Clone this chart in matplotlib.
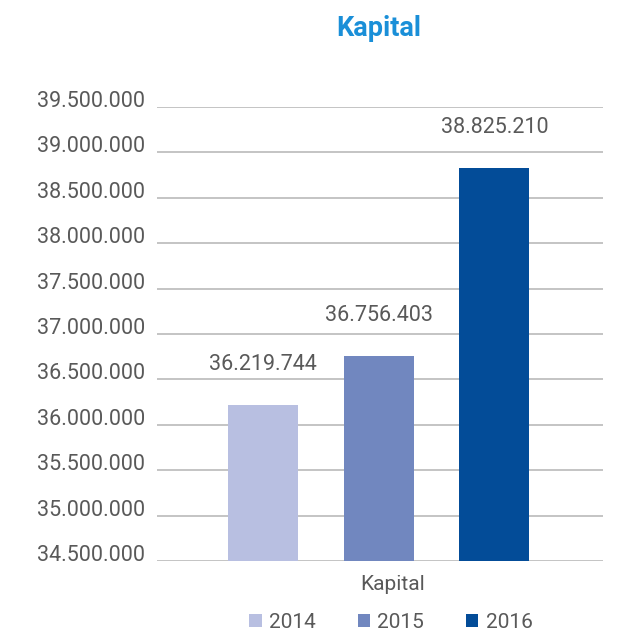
import matplotlib
matplotlib.use("Agg")
import matplotlib.pyplot as plt
from matplotlib.ticker import FuncFormatter
from matplotlib.patches import Patch

plt.rcParams['font.family'] = ['Roboto', 'DejaVu Sans']

years = ["2014", "2015", "2016"]
values = [36219744, 36756403, 38825210]
colors = ["#b8bfe1", "#7187bf", "#034c98"]
category = "Kapital"
yticks = [34500000, 35000000, 35500000, 36000000, 36500000, 37000000,
          37500000, 38000000, 38500000, 39000000, 39500000]

def fmt(v):
    return f"{int(v):,}".replace(",", ".")

fig = plt.figure(figsize=(6.18, 6.32), dpi=100)
ax = fig.add_axes([157/618, 1-561/632, 446/618, 454/632])

xs = [-1, 0, 1]
for x, v, c in zip(xs, values, colors):
    ax.bar(x, v - yticks[0], bottom=yticks[0], width=0.606, color=c, zorder=3)
    ax.annotate(fmt(v), (x, v), xytext=(0, 30), textcoords='offset pixels',
                ha='center', va='bottom', fontsize=15.5, color='#595959')

ax.set_ylim(yticks[0], yticks[-1])
ax.set_xlim(-1.92, 1.94)
ax.set_yticks(yticks)
ax.yaxis.set_major_formatter(FuncFormatter(lambda v, p: fmt(v)))
ax.tick_params(axis='y', length=0, pad=8.5, labelsize=15.5, labelcolor='#595959')
for lab in ax.get_yticklabels():
    lab.set_verticalalignment('baseline')
ax.set_xticks([])
ax.grid(axis='y', color='#bfbfbf', linewidth=1.3, zorder=0)
for s in ax.spines.values():
    s.set_visible(False)

fig.text(393/618, 1-584/632, category, ha='center', va='center',
         fontsize=15, color='#595959')
fig.text(379/618, 1-29/632, category, ha='center', va='center',
         fontsize=19.5, fontweight='bold', color='#1a8fd8')

handles = [Patch(facecolor=c, edgecolor='none') for c in colors]
fig.legend(handles, years, loc='center', bbox_to_anchor=(391/618, 1-622/632),
           ncol=3, frameon=False, fontsize=15, labelcolor='#595959',
           handlelength=0.6, handleheight=0.6, handletextpad=0.35,
           columnspacing=2.0, borderaxespad=0, borderpad=0)

fig.savefig("out.png", dpi=100)
